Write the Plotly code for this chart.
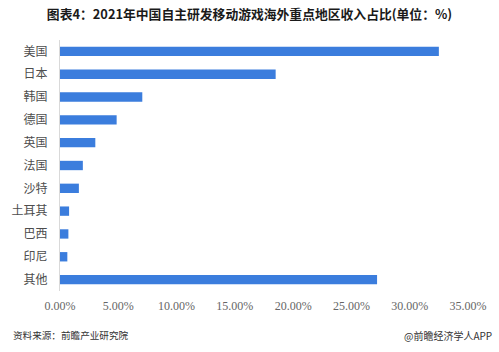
import plotly.graph_objects as go

categories = ["美国", "日本", "韩国", "德国", "英国", "法国", "沙特", "土耳其", "巴西", "印尼", "其他"]
values = [32.5, 18.5, 7.06, 4.86, 3.03, 1.96, 1.62, 0.78, 0.72, 0.63, 27.2]
tick_vals = [0, 5, 10, 15, 20, 25, 30, 35]
tick_text = ["0.00%", "5.00%", "10.00%", "15.00%", "20.00%", "25.00%", "30.00%", "35.00%"]

title_text = "图表4：2021年中国自主研发移动游戏海外重点地区收入占比(单位：%)"
source_text = "资料来源：前瞻产业研究院"
brand_text = "@前瞻经济学人APP"

fig = go.Figure(go.Bar(
    x=values, y=categories, orientation="h",
    marker=dict(color="#3b7ddd", line=dict(width=0)),
    hoverinfo="skip",
))

fig.update_layout(
    width=499, height=352,
    margin=dict(l=57, r=28, t=40, b=61),
    paper_bgcolor="white", plot_bgcolor="white",
    bargap=0.59,
    showlegend=False,
    font=dict(family="Noto Sans CJK SC", color="#404040"),
    title=dict(text="<b>" + title_text + "</b>", x=0.5, xanchor="center",
               y=1 - 15 / 352, yanchor="middle",
               font=dict(size=12.8, color="#1a1a1a", family="Noto Sans CJK SC")),
    xaxis=dict(range=[0, 35], tickvals=tick_vals, ticktext=tick_text,
               showgrid=False, zeroline=False, showline=False, ticks="",
               tickfont=dict(family="Liberation Serif", size=12, color="#666666"),
               ticklabelstandoff=6, fixedrange=True),
    yaxis=dict(autorange="reversed", showgrid=False, zeroline=False,
               showline=True, linecolor="#d9d9d9", linewidth=1, ticks="",
               tickfont=dict(family="Noto Sans CJK SC", size=12, color="#4d4d4d"),
               ticklabelstandoff=9, fixedrange=True),
    annotations=[
        dict(text=source_text, xref="paper", yref="paper", x=-57 / 414, y=-(335 - 291) / 251,
             xanchor="left", yanchor="middle", showarrow=False,
             font=dict(size=9.6, color="#333333", family="Noto Sans CJK SC"), xshift=7),
        dict(text=brand_text, xref="paper", yref="paper", x=1 + 28 / 414, y=-(335 - 291) / 251,
             xanchor="right", yanchor="middle", showarrow=False,
             font=dict(size=10, color="#333333", family="Noto Sans CJK SC"), xshift=-2),
    ],
)

fig.write_html("out.html")
